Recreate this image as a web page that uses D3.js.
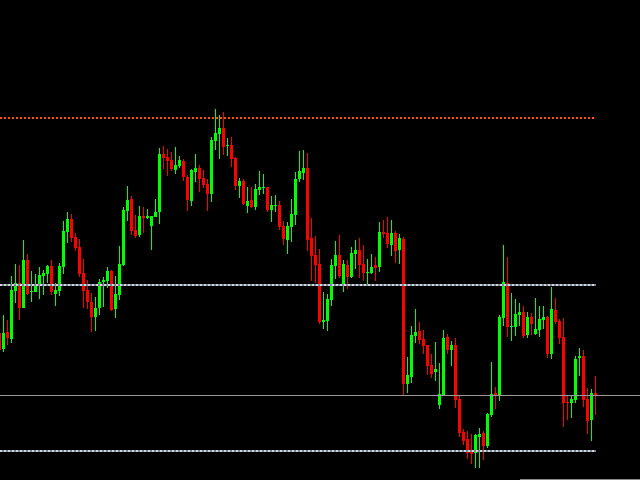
<!DOCTYPE html>
<html>
<head>
<meta charset="utf-8">
<script src="https://cdn.jsdelivr.net/npm/d3@7"></script>
<style>
  html, body { margin: 0; padding: 0; background: #000; overflow: hidden; }
  svg { display: block; }
</style>
</head>
<body>
<svg id="chart" width="640" height="480"></svg>
<script>
// OHLC bars, oldest first
const open = [
  1.3167, 1.3151, 1.3168, 1.3161, 1.3209, 1.3217, 1.3192, 1.3240, 1.3208, 1.3208,
  1.3214, 1.3224, 1.3226, 1.3234, 1.3206, 1.3209, 1.3233, 1.3268, 1.3281, 1.3263,
  1.3253, 1.3227, 1.3210, 1.3198, 1.3183, 1.3192, 1.3218, 1.3219, 1.3229, 1.3191,
  1.3205, 1.3235, 1.3289, 1.3301, 1.3270, 1.3265, 1.3284, 1.3282, 1.3274, 1.3283,
  1.3288, 1.3346, 1.3343, 1.3340, 1.3330, 1.3334, 1.3339, 1.3323, 1.3299, 1.3328,
  1.3332, 1.3322, 1.3316, 1.3306, 1.3359, 1.3366, 1.3372, 1.3354, 1.3355, 1.3342,
  1.3314, 1.3319, 1.3294, 1.3300, 1.3293, 1.3310, 1.3312, 1.3313, 1.3290, 1.3294,
  1.3295, 1.3274, 1.3260, 1.3273, 1.3285, 1.3321, 1.3327, 1.3332, 1.3262, 1.3245,
  1.3236, 1.3178, 1.3179, 1.3200, 1.3234, 1.3245, 1.3216, 1.3235, 1.3223, 1.3246,
  1.3250, 1.3236, 1.3227, 1.3227, 1.3235, 1.3233, 1.3268, 1.3267, 1.3255, 1.3267,
  1.3250, 1.3261, 1.3116, 1.3123, 1.3164, 1.3169, 1.3161, 1.3155, 1.3135, 1.3128,
  1.3095, 1.3105, 1.3163, 1.3150, 1.3155, 1.3101, 1.3068, 1.3061, 1.3048, 1.3047,
  1.3063, 1.3067, 1.3054, 1.3085, 1.3107, 1.3105, 1.3182, 1.3217, 1.3173, 1.3173,
  1.3185, 1.3188, 1.3165, 1.3183, 1.3166, 1.3170, 1.3180, 1.3183, 1.3146, 1.3190,
  1.3179, 1.3163, 1.3098, 1.3097, 1.3100, 1.3142, 1.3144, 1.3101, 1.3080, 1.3107
];
const high = [
  1.3170, 1.3185, 1.3180, 1.3224, 1.3236, 1.3235, 1.3260, 1.3246, 1.3229, 1.3226,
  1.3233, 1.3230, 1.3235, 1.3240, 1.3217, 1.3237, 1.3279, 1.3288, 1.3286, 1.3267,
  1.3261, 1.3241, 1.3220, 1.3207, 1.3203, 1.3221, 1.3223, 1.3233, 1.3230, 1.3224,
  1.3254, 1.3293, 1.3314, 1.3304, 1.3285, 1.3294, 1.3293, 1.3291, 1.3284, 1.3301,
  1.3352, 1.3354, 1.3351, 1.3348, 1.3353, 1.3344, 1.3341, 1.3325, 1.3331, 1.3346,
  1.3335, 1.3330, 1.3321, 1.3363, 1.3391, 1.3385, 1.3388, 1.3362, 1.3363, 1.3343,
  1.3322, 1.3321, 1.3313, 1.3313, 1.3316, 1.3329, 1.3326, 1.3313, 1.3304, 1.3305,
  1.3299, 1.3279, 1.3278, 1.3301, 1.3328, 1.3349, 1.3350, 1.3347, 1.3282, 1.3264,
  1.3251, 1.3208, 1.3206, 1.3241, 1.3259, 1.3265, 1.3240, 1.3240, 1.3253, 1.3260,
  1.3262, 1.3255, 1.3241, 1.3246, 1.3243, 1.3278, 1.3280, 1.3283, 1.3280, 1.3269,
  1.3266, 1.3263, 1.3143, 1.3174, 1.3191, 1.3178, 1.3170, 1.3155, 1.3146, 1.3158,
  1.3137, 1.3170, 1.3166, 1.3159, 1.3162, 1.3104, 1.3071, 1.3069, 1.3066, 1.3066,
  1.3072, 1.3069, 1.3087, 1.3138, 1.3113, 1.3185, 1.3255, 1.3243, 1.3207, 1.3201,
  1.3197, 1.3194, 1.3188, 1.3187, 1.3202, 1.3194, 1.3194, 1.3184, 1.3213, 1.3202,
  1.3181, 1.3182, 1.3105, 1.3105, 1.3144, 1.3152, 1.3150, 1.3112, 1.3111, 1.3124
];
const low = [
  1.3148, 1.3148, 1.3155, 1.3157, 1.3197, 1.3180, 1.3192, 1.3205, 1.3198, 1.3208,
  1.3201, 1.3205, 1.3217, 1.3205, 1.3194, 1.3204, 1.3226, 1.3257, 1.3258, 1.3249,
  1.3223, 1.3192, 1.3191, 1.3168, 1.3169, 1.3185, 1.3193, 1.3212, 1.3189, 1.3182,
  1.3200, 1.3234, 1.3279, 1.3265, 1.3262, 1.3263, 1.3267, 1.3281, 1.3250, 1.3283,
  1.3276, 1.3331, 1.3324, 1.3329, 1.3326, 1.3332, 1.3319, 1.3289, 1.3294, 1.3318,
  1.3308, 1.3312, 1.3289, 1.3298, 1.3350, 1.3341, 1.3345, 1.3344, 1.3333, 1.3310,
  1.3302, 1.3295, 1.3287, 1.3292, 1.3290, 1.3305, 1.3306, 1.3288, 1.3278, 1.3288,
  1.3270, 1.3255, 1.3246, 1.3258, 1.3275, 1.3318, 1.3320, 1.3249, 1.3219, 1.3217,
  1.3176, 1.3171, 1.3169, 1.3194, 1.3221, 1.3222, 1.3208, 1.3211, 1.3222, 1.3231,
  1.3222, 1.3219, 1.3216, 1.3226, 1.3219, 1.3228, 1.3262, 1.3252, 1.3244, 1.3237,
  1.3236, 1.3105, 1.3107, 1.3117, 1.3157, 1.3156, 1.3146, 1.3125, 1.3122, 1.3119,
  1.3091, 1.3105, 1.3146, 1.3134, 1.3092, 1.3063, 1.3055, 1.3041, 1.3036, 1.3032,
  1.3032, 1.3040, 1.3052, 1.3083, 1.3091, 1.3099, 1.3174, 1.3163, 1.3159, 1.3164,
  1.3174, 1.3162, 1.3162, 1.3165, 1.3165, 1.3163, 1.3171, 1.3142, 1.3141, 1.3176,
  1.3156, 1.3073, 1.3080, 1.3082, 1.3097, 1.3124, 1.3093, 1.3066, 1.3059, 1.3085
];
const close = [
  1.3150, 1.3167, 1.3162, 1.3210, 1.3217, 1.3192, 1.3240, 1.3206, 1.3209, 1.3216,
  1.3225, 1.3227, 1.3234, 1.3208, 1.3210, 1.3234, 1.3269, 1.3281, 1.3262, 1.3252,
  1.3226, 1.3209, 1.3198, 1.3183, 1.3192, 1.3218, 1.3220, 1.3229, 1.3190, 1.3206,
  1.3236, 1.3290, 1.3300, 1.3269, 1.3264, 1.3284, 1.3282, 1.3284, 1.3284, 1.3288,
  1.3346, 1.3342, 1.3339, 1.3331, 1.3335, 1.3340, 1.3323, 1.3300, 1.3330, 1.3332,
  1.3321, 1.3315, 1.3306, 1.3360, 1.3367, 1.3372, 1.3353, 1.3355, 1.3341, 1.3314,
  1.3319, 1.3296, 1.3299, 1.3293, 1.3311, 1.3313, 1.3313, 1.3290, 1.3295, 1.3295,
  1.3273, 1.3261, 1.3274, 1.3286, 1.3321, 1.3329, 1.3332, 1.3260, 1.3244, 1.3235,
  1.3178, 1.3180, 1.3201, 1.3235, 1.3245, 1.3224, 1.3236, 1.3223, 1.3247, 1.3250,
  1.3235, 1.3227, 1.3228, 1.3233, 1.3232, 1.3268, 1.3266, 1.3256, 1.3267, 1.3249,
  1.3262, 1.3116, 1.3125, 1.3165, 1.3168, 1.3160, 1.3154, 1.3134, 1.3126, 1.3131,
  1.3106, 1.3162, 1.3150, 1.3155, 1.3100, 1.3067, 1.3059, 1.3047, 1.3046, 1.3065,
  1.3066, 1.3054, 1.3086, 1.3106, 1.3105, 1.3183, 1.3218, 1.3173, 1.3174, 1.3186,
  1.3188, 1.3164, 1.3183, 1.3176, 1.3171, 1.3181, 1.3183, 1.3146, 1.3191, 1.3178,
  1.3162, 1.3097, 1.3097, 1.3101, 1.3141, 1.3144, 1.3100, 1.3079, 1.3107, 1.3104
];

// Horizontal price levels
const resistanceLevel = 1.33825;
const dottedLevels = [1.32155, 1.30485];
const currentPrice = 1.31045;

const W = 640, H = 480;
const plotRight = 596;
const n = close.length;

const bars = d3.range(n).map(i => ({
  i, o: open[i], h: high[i], l: low[i], c: close[i]
}));

const x = d3.scaleLinear().domain([0, n - 1]).range([-0.5, 595.5]);
const y = d3.scaleLinear().domain([1.3500, 1.3020]).range([0, 480]);

const svg = d3.select("#chart").attr("shape-rendering", "crispEdges");
svg.append("rect").attr("width", W).attr("height", H).attr("fill", "#000");

const UP = "#00ff00", DOWN = "#ff0000";
const color = d => d.c >= d.o ? UP : DOWN;

// candles
const g = svg.append("g");
const candle = g.selectAll("g.candle").data(bars).join("g").attr("class", "candle");

candle.append("rect")
  .attr("x", d => x(d.i) - 0.5)
  .attr("width", 1)
  .attr("y", d => Math.round(y(d.h)))
  .attr("height", d => Math.max(1, Math.round(y(d.l)) - Math.round(y(d.h))))
  .attr("fill", color);

candle.append("rect")
  .attr("x", d => x(d.i) - 1.5)
  .attr("width", 3)
  .attr("y", d => Math.round(y(Math.max(d.o, d.c))))
  .attr("height", d => Math.max(1, Math.round(y(Math.min(d.o, d.c))) - Math.round(y(Math.max(d.o, d.c)))))
  .attr("fill", color);

// level lines, drawn over the candles, 2px dotted
const lv = svg.append("g");
const ry = Math.round(y(resistanceLevel));
lv.append("line")
  .attr("x1", 0).attr("x2", plotRight).attr("y1", ry).attr("y2", ry)
  .attr("stroke", "#ff5418").attr("stroke-width", 2)
  .attr("stroke-dasharray", "2,2");

dottedLevels.forEach(p => {
  const yy = Math.round(y(p));
  lv.append("line")
    .attr("x1", 0).attr("x2", plotRight).attr("y1", yy).attr("y2", yy)
    .attr("stroke", "#75859a").attr("stroke-width", 2);
  lv.append("line")
    .attr("x1", 0).attr("x2", plotRight).attr("y1", yy).attr("y2", yy)
    .attr("stroke", "#d6d6d6").attr("stroke-width", 2)
    .attr("stroke-dasharray", "2,2");
});

// current price line across the full width
const cy = Math.floor(y(currentPrice)) + 0.5;
svg.append("line")
  .attr("x1", 0).attr("x2", W).attr("y1", cy).attr("y2", cy)
  .attr("stroke", "#9a9a9a").attr("stroke-width", 1);

// bottom-right frame edge
svg.append("line")
  .attr("x1", 520).attr("x2", W).attr("y1", 479.5).attr("y2", 479.5)
  .attr("stroke", "#8a8a8a").attr("stroke-width", 1);
</script>
</body>
</html>
